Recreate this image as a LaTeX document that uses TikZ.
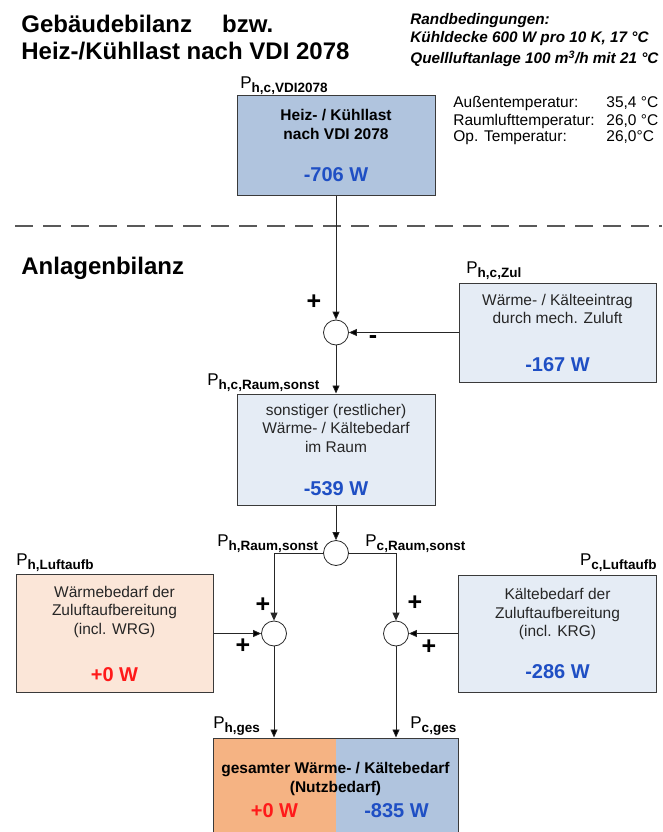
\documentclass[tikz,border=0pt]{standalone}
\usepackage{fontspec}
\setmainfont{Liberation Sans}
\usepackage{tikz}
\usetikzlibrary{arrows.meta}

\definecolor{vdiblue}{HTML}{B0C4DE}
\definecolor{paleblue}{HTML}{E5ECF5}
\definecolor{palepeach}{HTML}{FBE6D8}
\definecolor{heatorange}{HTML}{F5B383}
\definecolor{valblue}{HTML}{1F4FC4}
\definecolor{valred}{HTML}{FF1A1A}
\definecolor{boxline}{HTML}{3A3A3A}

\newcommand{\plab}[1]{{\fontsize{17}{17}\selectfont P}\raisebox{-4pt}{\fontsize{13.5}{13.5}\selectfont\bfseries #1}}
\newcommand{\wert}[2]{{\fontsize{20}{19}\selectfont\bfseries\color{#1}#2}}

\begin{document}
\begin{tikzpicture}[x=1pt,y=-1pt,>={Triangle[length=8pt,width=7pt]},
  line width=0.8pt,
  box/.style={draw=boxline,line width=1pt,minimum width=198pt,align=center,
    inner sep=0pt,text=black!85,font=\fontsize{15.5}{18.5}\selectfont},
  bold box/.style={box,text=black,font=\fontsize{15.5}{19.5}\selectfont\bfseries},
  sum node/.style={circle,draw=black!85,fill=white,minimum size=25pt,inner sep=0pt},
  plabel/.style={anchor=base west,inner sep=0pt},
  heading/.style={anchor=base west,inner sep=0pt,font=\fontsize{24}{27}\selectfont\bfseries},
  note/.style={anchor=base west,inner sep=0pt,font=\fontsize{15.5}{17}\selectfont},
  cond/.style={note,font=\fontsize{15.3}{17}\selectfont\bfseries\itshape},
  sign/.style={inner sep=0pt,font=\fontsize{25}{25}\selectfont\bfseries}]

  \useasboundingbox (0,0) rectangle (662,832);

  % headings and conditions
  \node[heading] (title1) at (21,33) {Gebäudebilanz\hspace{30pt}bzw.};
  \node[heading] (title2) at (21,60) {Heiz-/Kühllast nach VDI 2078};
  \node[heading] (anlage) at (21,274) {Anlagenbilanz};

  \node[cond] (rb1) at (410,25) {Randbedingungen:};
  \node[cond] (rb2) at (410,43) {Kühldecke 600 W pro 10 K, 17 °C};
  \node[cond] (rb3) at (410,64) {Quellluftanlage 100 m\textsuperscript{3}/h mit 21 °C};

  \node[note] (ta) at (453,108) {Außentemperatur:};
  \node[note] (tr) at (453,125) {Raumlufttemperatur:};
  \node[note] (to) at (453,142) {Op. Temperatur:};
  \node[note] (tav) at (606,108) {35,4 °C};
  \node[note] (trv) at (606,125) {26,0 °C};
  \node[note] (tov) at (606,142) {26,0°C};

  \draw[black!65,line width=1.2pt,dash pattern=on 18pt off 10pt] (15,226) -- (662,226);

  % boxes
  \node[bold box,fill=vdiblue,minimum height=99pt] (vdi) at (336,145.5)
    {Heiz- / Kühllast\\nach VDI 2078\\[22.5pt]\wert{valblue}{-706 W}};
  \node[box,fill=paleblue,minimum width=197pt,minimum height=99pt] (zul) at (557.5,332.5)
    {Wärme- / Kälteeintrag\\durch mech. Zuluft\\[29pt]\wert{valblue}{-167 W}};
  \node[box,fill=paleblue,minimum height=111pt] (sonst) at (336,449.5)
    {sonstiger (restlicher)\\Wärme- / Kältebedarf\\im Raum\\[24.5pt]\wert{valblue}{-539 W}};
  \node[box,fill=palepeach,minimum width=197pt,minimum height=118pt] (hluft) at (114.5,633.5)
    {Wärmebedarf der\\Zuluftaufbereitung\\(incl. WRG)\\[28.5pt]\wert{valred}{+0 W}};
  \node[box,fill=paleblue,minimum height=117pt] (cluft) at (557.5,633.5)
    {Kältebedarf der\\Zuluftaufbereitung\\(incl. KRG)\\[23.5pt]\wert{valblue}{-286 W}};
  \node[bold box,minimum width=245pt,minimum height=103pt,
    path picture={
      \fill[heatorange] (path picture bounding box.south west) rectangle (path picture bounding box.north);
      \fill[vdiblue] (path picture bounding box.north) rectangle (path picture bounding box.south east);}]
    (ges) at (335.5,789.5)
    {gesamter Wärme- / Kältebedarf\\(Nutzbedarf)\\[5pt]\makebox[122pt]{\wert{valred}{+0 W}}\makebox[122pt]{\wert{valblue}{-835 W}}};

  % summing points
  \node[sum node] (sum1) at (336,332.5) {};
  \node[sum node] (split) at (336,553) {};
  \node[sum node] (sumh) at (274,633.5) {};
  \node[sum node] (sumc) at (396,633.5) {};

  % power labels
  \node[plabel] (pvdi) at (240,89) {\plab{h,c,VDI2078}};
  \node[plabel] (pzul) at (466,273) {\plab{h,c,Zul}};
  \node[plabel] (psonst) at (207,385) {\plab{h,c,Raum,sonst}};
  \node[plabel] (phraum) at (217,546) {\plab{h,Raum,sonst}};
  \node[plabel] (pcraum) at (365,546) {\plab{c,Raum,sonst}};
  \node[plabel] (phluft) at (16,565) {\plab{h,Luftaufb}};
  \node[plabel,anchor=base east] (pcluft) at (657,565) {\plab{c,Luftaufb}};
  \node[plabel] (phges) at (213,728) {\plab{h,ges}};
  \node[plabel] (pcges) at (410,728) {\plab{c,ges}};

  % signs
  \node[sign] (s1) at (314,302) {+};
  \node[sign] (s2) at (373,340) {-};
  \node[sign] (s3) at (263,605) {+};
  \node[sign] (s4) at (415,603) {+};
  \node[sign] (s5) at (243,646) {+};
  \node[sign] (s6) at (429,647) {+};

  \path[->,draw=black!85]
    (vdi) edge (sum1)
    (zul) edge (sum1)
    (sum1) edge (sonst)
    (sonst) edge (split)
    (hluft) edge (sumh)
    (cluft) edge (sumc)
    (sumh) edge (sumh |- ges.north)
    (sumc) edge (sumc |- ges.north);
  \draw[->,black!85] (split.west) -| (sumh);
  \draw[->,black!85] (split.east) -| (sumc);
\end{tikzpicture}
\end{document}
